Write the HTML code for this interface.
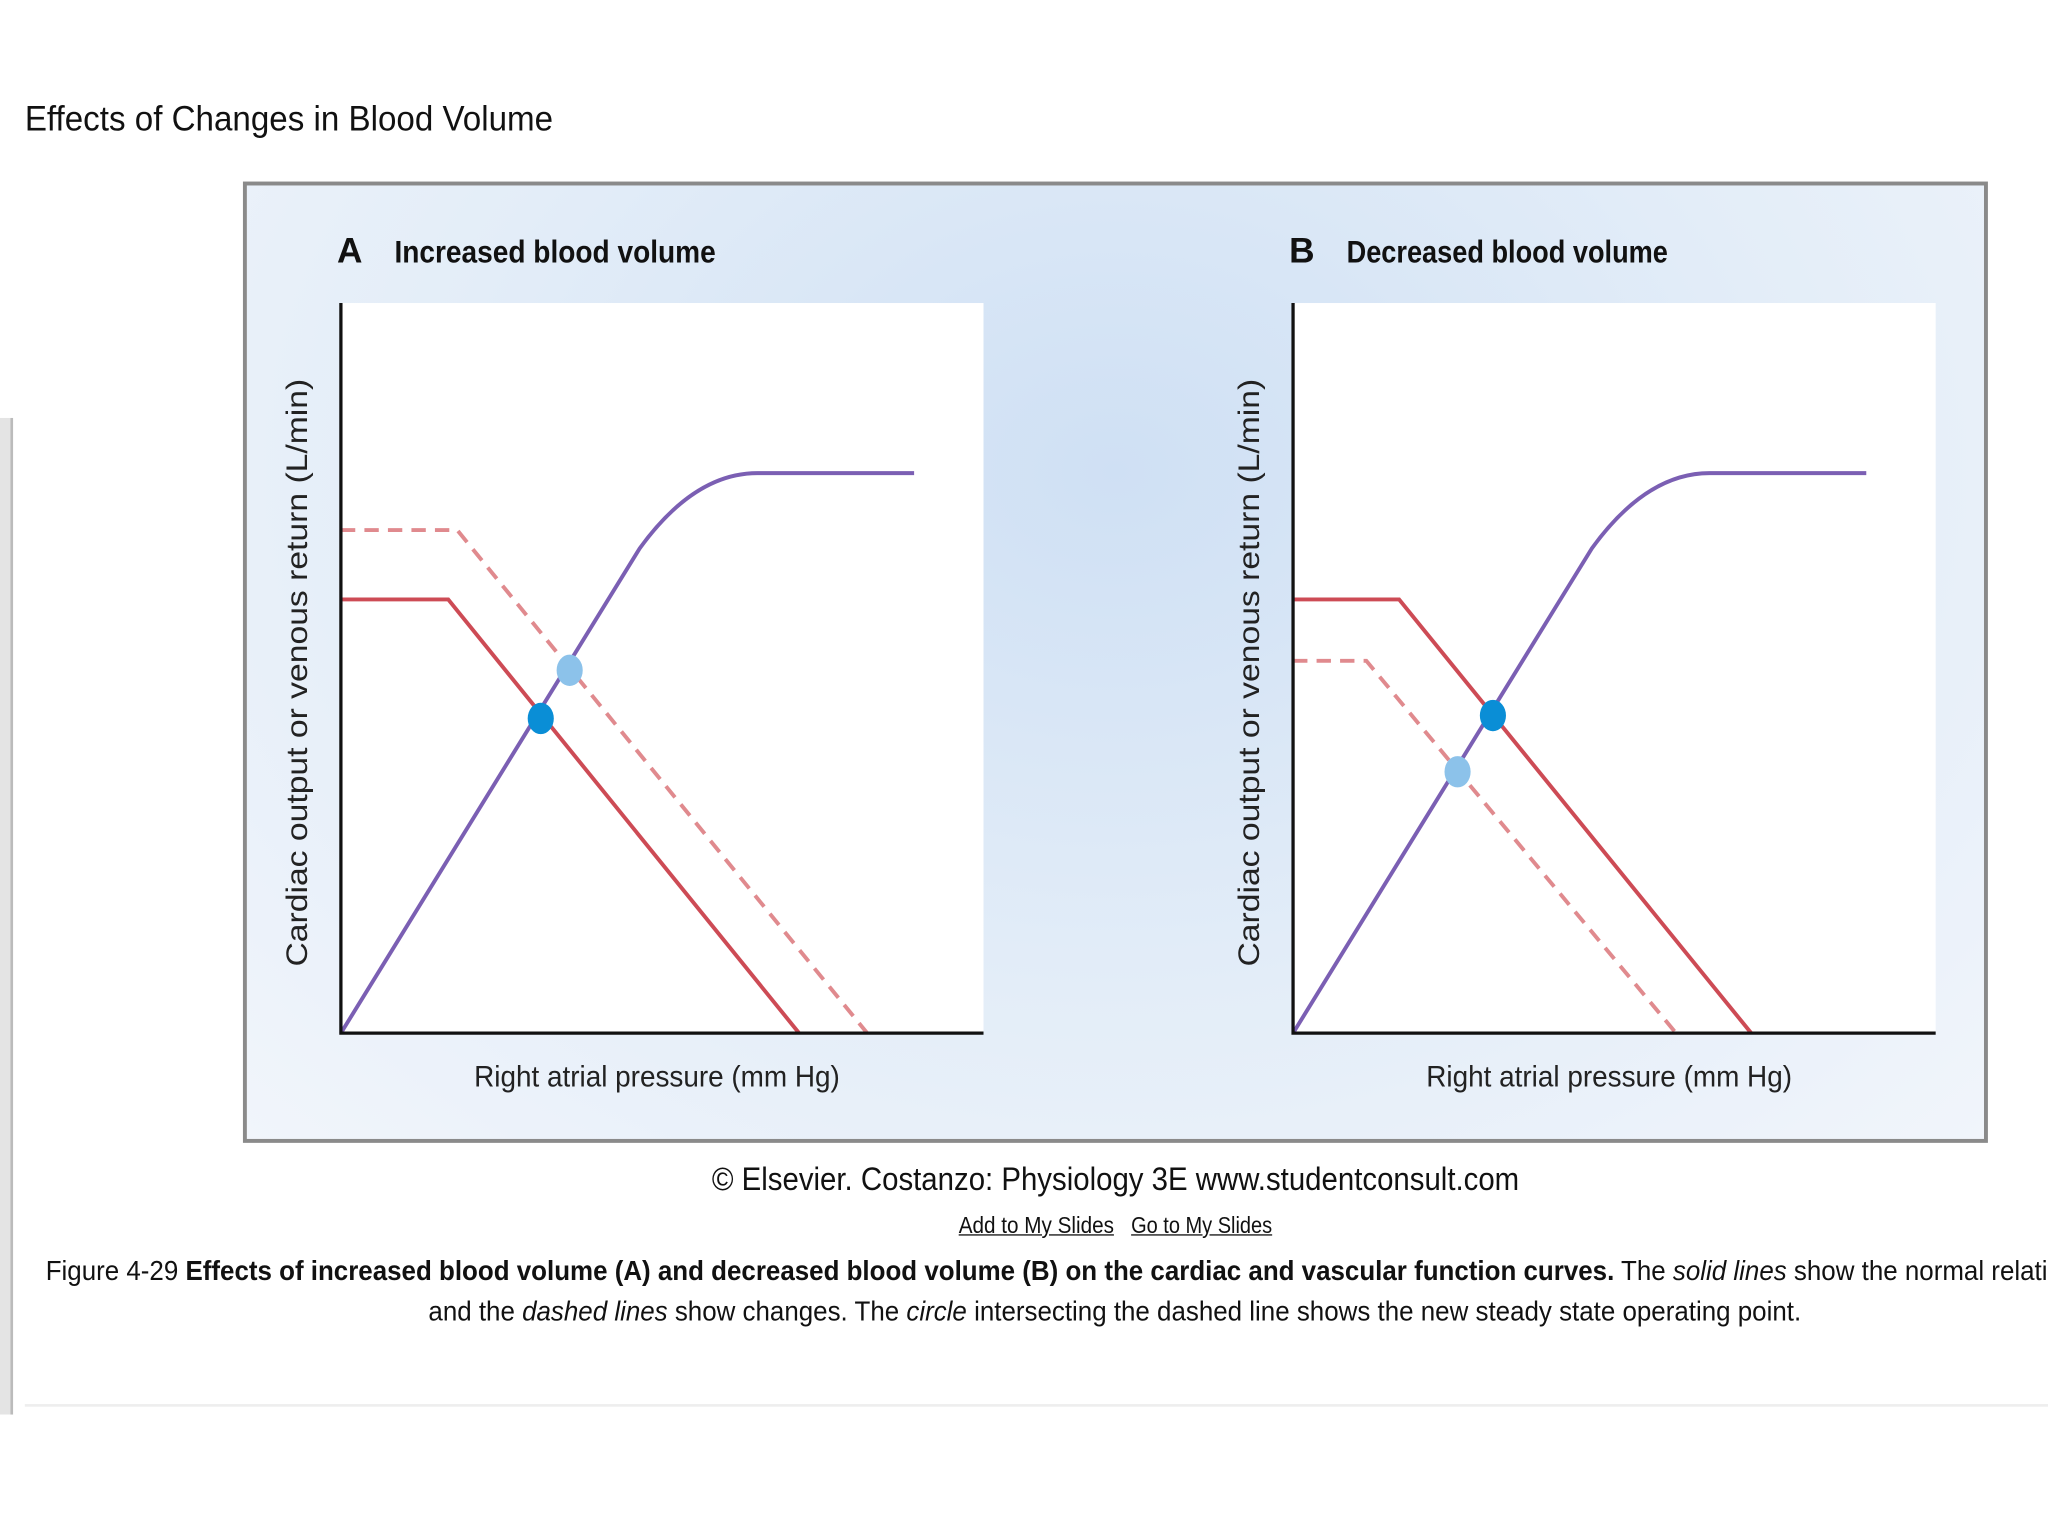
<!DOCTYPE html>
<html><head><meta charset="utf-8">
<style>
html,body{margin:0;padding:0;background:#fff;width:2048px;height:1536px;overflow:hidden}
#wrap{position:absolute;left:0;top:0;width:1568px;height:1176px;overflow:hidden;transform:scale(1.306122);transform-origin:0 0;font-family:"Liberation Sans",sans-serif;color:#111}
.t{position:absolute;white-space:nowrap;transform-origin:0 0}
</style></head><body>
<div id="wrap">
<div style="position:absolute;left:0;top:320px;width:8px;height:763px;background:#e4e4e4;border-right:2px solid #bbb"></div>
<div class="t" style="left:19px;top:76px;font-size:27px;transform:scaleX(0.94)">Effects of Changes in Blood Volume</div>
<div style="position:absolute;left:186px;top:139px;width:1330px;height:730px;border:3px solid #8a8a8a;background:radial-gradient(ellipse at 50% 30%,#cfe0f4 0%,#e3edf8 55%,#f1f5fb 100%)"></div>
<svg id="chart" width="1568" height="1176" style="position:absolute;left:0;top:0">
</svg>
<div class="t" style="left:545px;top:889px;font-size:25px;transform:scaleX(0.9)">© Elsevier. Costanzo: Physiology 3E www.studentconsult.com</div>
<div class="t" style="left:734px;top:928px;font-size:18px;text-decoration:underline;transform:scaleX(0.88)">Add to My Slides</div>
<div class="t" style="left:866px;top:928px;font-size:18px;text-decoration:underline;transform:scaleX(0.85)">Go to My Slides</div>
<div class="t" style="left:35px;top:962px;font-size:21px;transform:scaleX(0.945)">Figure 4-29 <b>Effects of increased blood volume (A) and decreased blood volume (B) on the cardiac and vascular function curves.</b> The <i>solid lines</i> show the normal relationships</div>
<div class="t" style="left:328px;top:993px;font-size:21px;transform:scaleX(0.945)">and the <i>dashed lines</i> show changes. The <i>circle</i> intersecting the dashed line shows the new steady state operating point.</div>
<div style="position:absolute;left:19px;top:1075px;width:1549px;height:2px;background:#eee"></div>
</div>
<script>
// data in 0..100 units: start, knee, bend control, plateau start, plateau end
const cardiacCurve=[[0,0],[46.5,66.4],[55,76.7],[64.8,76.7],[89.2,76.7]];
const venousNormalA=[[0,59.4],[16.7,59.4],[71.3,0]];
const venousChangedA=[[0,68.9],[18.1,68.9],[81.9,0]];
const venousNormalB=[[0,59.4],[16.5,59.4],[71.3,0]];
const venousChangedB=[[0,51.0],[11.4,51.0],[59.6,0]];
const pointNormalA=[31.1,43.1], pointNewA=[35.6,49.7];
const pointNormalB=[31.1,43.5], pointNewB=[25.6,35.8];
const panels=[
 {id:'a',letter:'A',title:'Increased blood volume',x0:261,normal:venousNormalA,changed:venousChangedA,pn:pointNormalA,pc:pointNewA},
 {id:'b',letter:'B',title:'Decreased blood volume',x0:990,normal:venousNormalB,changed:venousChangedB,pn:pointNormalB,pc:pointNewB}
];
const svg=document.getElementById('chart');const NS='http://www.w3.org/2000/svg';
function mk(tag,attrs,parent){const e=document.createElementNS(NS,tag);for(const k in attrs)e.setAttribute(k,attrs[k]);(parent||svg).appendChild(e);return e;}
const W=492,H=559,Y0=791;
panels.forEach(p=>{
 const sx=v=>p.x0+v*W/100, sy=v=>Y0-v*H/100;
 const g=mk('g',{});
 
 
 const bg=mk('rect',{x:p.x0,y:232,width:W,height:H,fill:'#fff'},g);
 
 
 const pts=a=>a.map(q=>sx(q[0])+','+sy(q[1])).join(' ');
 const P=cardiacCurve.map(q=>sx(q[0])+','+sy(q[1]));
 const c=mk('path',{d:`M${P[0]} L${P[1]} Q${P[2]} ${P[3]} L${P[4]}`,fill:'none',stroke:'#7b5fb3','stroke-width':3,'stroke-linejoin':'round'},g);
 
 
 const n=mk('polyline',{points:pts(p.normal),fill:'none',stroke:'#cd4b55','stroke-width':3},g);
 
 
 const d=mk('polyline',{points:pts(p.changed),fill:'none',stroke:'#e08a8e','stroke-width':3,'stroke-dasharray':'11 7'},g);
 
 
 const ax=mk('polyline',{points:`${p.x0},232 ${p.x0},${Y0} ${p.x0+W},${Y0}`,fill:'none',stroke:'#111','stroke-width':2.5},g);
 
 
 const c1=mk('ellipse',{cx:sx(p.pc[0]),cy:sy(p.pc[1]),rx:10,ry:12,fill:'#8cc2ea'},g);
 
 
 const c2=mk('ellipse',{cx:sx(p.pn[0]),cy:sy(p.pn[1]),rx:10,ry:12,fill:'#0a8ed6'},g);
 
 
 const L=mk('text',{x:p.x0-3,y:201,'font-size':27,'font-weight':'bold','font-family':'Liberation Sans, sans-serif',fill:'#111'},g);
 L.textContent=p.letter;
 
 
 const T=mk('text',{x:p.x0+41,y:201,'font-size':24,'font-weight':'bold','font-family':'Liberation Sans, sans-serif',fill:'#111',textLength:246,lengthAdjust:'spacingAndGlyphs'},g);
 T.textContent=p.title;
 
 
 const xl=mk('text',{x:p.x0+102,y:832,'font-size':23,'font-family':'Liberation Sans, sans-serif',fill:'#222',textLength:280,lengthAdjust:'spacingAndGlyphs'},g);
 xl.textContent='Right atrial pressure (mm Hg)';
 
 
 const yl=mk('text',{x:-225,y:0,'font-size':23,'font-family':'Liberation Sans, sans-serif',fill:'#222',textLength:450,lengthAdjust:'spacingAndGlyphs',transform:`translate(${p.x0-26},515) rotate(-90)`},g);
 yl.textContent='Cardiac output or venous return (L/min)';
 
 
});
</script>
</body></html>
